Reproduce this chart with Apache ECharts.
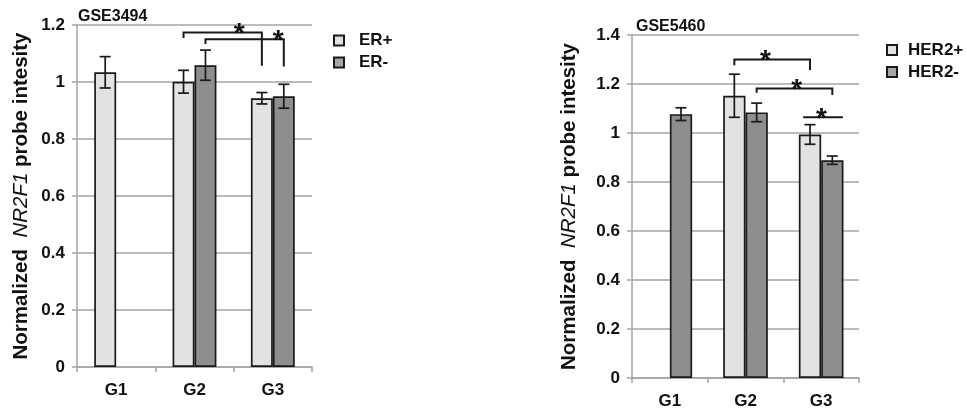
<!DOCTYPE html>
<html><head><meta charset="utf-8">
<script src="https://cdn.jsdelivr.net/npm/echarts@6/dist/echarts.min.js"></script>
<style>html,body{margin:0;padding:0;background:#fff}#c{width:967px;height:410px}</style>
</head><body><div id="c"></div>
<script>
const categories = ['G1', 'G2', 'G3'];
const leftTitle = 'GSE3494';
const rightTitle = 'GSE5460';
const leftNames = ['ER+', 'ER-'];
const rightNames = ['HER2+', 'HER2-'];
const erPos = [1.034, 1.001, 0.943];
const erPosErr = [0.055, 0.040, 0.020];
const erNeg = [null, 1.059, 0.950];
const erNegErr = [null, 0.053, 0.042];
const her2Pos = [null, 1.152, 0.994];
const her2PosErr = [null, 0.088, 0.040];
const her2Neg = [1.077, 1.084, 0.889];
const her2NegErr = [0.026, 0.038, 0.017];
const leftTicks = {min: 0, max: 1.2, interval: 0.2};
const rightTicks = {min: 0, max: 1.4, interval: 0.2};
// significance annotations: ends given as [category index, series index]
const leftSig = [
  {from: [1, 0], to: [2, 0], y: 1.174, yFrom: 1.154, yTo: 1.057, star: 0.71},
  {from: [1, 1], to: [2, 1], y: 1.150, yFrom: 1.133, yTo: 1.054, star: 0.93}
];
const rightSig = [
  {from: [1, 0], to: [2, 0], y: 1.300, yFrom: 1.277, yTo: 1.257, star: 0.41},
  {from: [1, 1], to: [2, 1], y: 1.182, yFrom: 1.164, yTo: 1.155, star: 0.53},
  {from: [2, 0], to: [2, 1], y: 1.064, yFrom: 1.064, yTo: 1.064, star: 0.46, ext: [-0.09, 0.14]}
];

const FONT = '"Liberation Sans", Arial, sans-serif';
const LIGHT = '#e2e2e2', DARK = '#8e8e8e', EDGE = '#1a1a1a', GRID = '#a4a4a4';
const leftBarPct = 0.28, rightBarPct = 0.295;

const chart = echarts.init(document.getElementById('c'));

function xAxis(gi) {
  return {
    type: 'category', gridIndex: gi, data: categories,
    axisLine: {lineStyle: {color: GRID, width: 1.5}},
    axisTick: {show: true, length: 5, lineStyle: {color: GRID, width: 1.5}},
    axisLabel: {fontFamily: FONT, fontWeight: 'bold', fontSize: 17, color: '#111', margin: 15}
  };
}
function yAxis(gi, t, gap) {
  return {
    type: 'value', gridIndex: gi, min: t.min, max: t.max, interval: t.interval,
    name: 'Normalized  {i|NR2F1} probe intesity', nameLocation: 'middle', nameGap: gap, nameRotate: 90,
    nameTextStyle: {fontFamily: FONT, fontWeight: 'bold', fontSize: 20.5, color: '#111',
      rich: {i: {fontFamily: FONT, fontStyle: 'italic', fontWeight: 'normal', fontSize: 20.5, color: '#111'}}},
    axisLine: {show: true, lineStyle: {color: GRID, width: 1.5}},
    axisTick: {show: true, length: 5, lineStyle: {color: GRID, width: 1.5}},
    splitLine: {lineStyle: {color: GRID, width: 1.5}},
    axisLabel: {fontFamily: FONT, fontWeight: 'bold', fontSize: 17, color: '#111', margin: 12}
  };
}
function bar(name, data, gi, color, pct) {
  return {
    name, type: 'bar', xAxisIndex: gi, yAxisIndex: gi, data,
    barWidth: (pct * 100) + '%', barGap: '0%',
    itemStyle: {color, borderColor: EDGE, borderWidth: 1.7}
  };
}
function errSeries(vals, errs, side, gi, pct) {
  const d = [];
  vals.forEach((v, i) => { if (v != null) d.push([i, v, errs[i], side]); });
  return {
    type: 'custom', xAxisIndex: gi, yAxisIndex: gi, data: d, z: 5, silent: true,
    renderItem(params, api) {
      const c = api.value(0), v = api.value(1), e = api.value(2), s = api.value(3);
      const band = api.size([1, 0])[0];
      const x = api.coord([c, v])[0] + s * band * pct / 2;
      const yt = api.coord([c, v + e])[1], yb = api.coord([c, v - e])[1];
      const w = 5.5, st = {stroke: EDGE, lineWidth: 1.7};
      return {type: 'group', children: [
        {type: 'line', shape: {x1: x, y1: yt, x2: x, y2: yb}, style: st},
        {type: 'line', shape: {x1: x - w, y1: yt, x2: x + w, y2: yt}, style: st},
        {type: 'line', shape: {x1: x - w, y1: yb, x2: x + w, y2: yb}, style: st}
      ]};
    }
  };
}
function sigSeries(list, gi, pct) {
  return {
    type: 'custom', xAxisIndex: gi, yAxisIndex: gi, data: list.map((a, i) => [i]), z: 6, silent: true,
    renderItem(params, api) {
      const a = list[params.dataIndex];
      const band = api.size([1, 0])[0];
      const px = (p) => api.coord([p[0], a.y])[0] + (p[1] === 0 ? -1 : 1) * band * pct / 2;
      let x1 = px(a.from), x2 = px(a.to);
      if (a.ext) { x1 += a.ext[0] * band; x2 += a.ext[1] * band; }
      const y = api.coord([0, a.y])[1], y1 = api.coord([0, a.yFrom])[1], y2 = api.coord([0, a.yTo])[1];
      const st = {stroke: EDGE, lineWidth: 2, fill: null};
      const sx = x1 + (x2 - x1) * a.star;
      return {type: 'group', children: [
        {type: 'polyline', shape: {points: [[x1, y1], [x1, y], [x2, y], [x2, y2]]}, style: st},
        {type: 'text', x: sx, y: y + 2, style: {text: '*', font: 'bold 28px ' + FONT, fill: '#111', align: 'center', verticalAlign: 'middle'}}
      ]};
    }
  };
}

chart.setOption({
  animation: false,
  grid: [
    {left: 77, top: 25, width: 235, height: 342},
    {left: 632, top: 35, width: 227, height: 343}
  ],
  title: [
    {text: leftTitle, left: 78, top: 9, padding: 0, textStyle: {fontFamily: FONT, fontWeight: 'bold', fontSize: 16, color: '#111'}},
    {text: rightTitle, left: 636, top: 18.5, padding: 0, textStyle: {fontFamily: FONT, fontWeight: 'bold', fontSize: 16, color: '#111'}}
  ],
  legend: [
    {data: [{name: leftNames[0], itemStyle: {color: LIGHT}}, {name: leftNames[1], itemStyle: {color: '#a6a6a6'}}],
     orient: 'vertical', left: 333, top: 32, padding: 0, itemWidth: 10, itemHeight: 10, itemGap: 5, icon: 'rect',
     itemStyle: {borderColor: EDGE, borderWidth: 2},
     textStyle: {fontFamily: FONT, fontWeight: 'bold', fontSize: 17, color: '#111', lineHeight: 17, padding: [0, 0, 0, 10]}},
    {data: [{name: rightNames[0], itemStyle: {color: LIGHT}}, {name: rightNames[1], itemStyle: {color: '#a6a6a6'}}],
     orient: 'vertical', left: 886, top: 41.5, padding: 0, itemWidth: 10, itemHeight: 10, itemGap: 5, icon: 'rect',
     itemStyle: {borderColor: EDGE, borderWidth: 2},
     textStyle: {fontFamily: FONT, fontWeight: 'bold', fontSize: 17, color: '#111', lineHeight: 17, padding: [0, 0, 0, 6]}}
  ],
  xAxis: [xAxis(0), xAxis(1)],
  yAxis: [yAxis(0, leftTicks, 45), yAxis(1, rightTicks, 52)],
  series: [
    bar(leftNames[0], erPos, 0, LIGHT, leftBarPct),
    bar(leftNames[1], erNeg, 0, DARK, leftBarPct),
    bar(rightNames[0], her2Pos, 1, LIGHT, rightBarPct),
    bar(rightNames[1], her2Neg, 1, DARK, rightBarPct),
    errSeries(erPos, erPosErr, -1, 0, leftBarPct),
    errSeries(erNeg, erNegErr, 1, 0, leftBarPct),
    errSeries(her2Pos, her2PosErr, -1, 1, rightBarPct),
    errSeries(her2Neg, her2NegErr, 1, 1, rightBarPct),
    sigSeries(leftSig, 0, leftBarPct),
    sigSeries(rightSig, 1, rightBarPct)
  ]
});
</script></body></html>
